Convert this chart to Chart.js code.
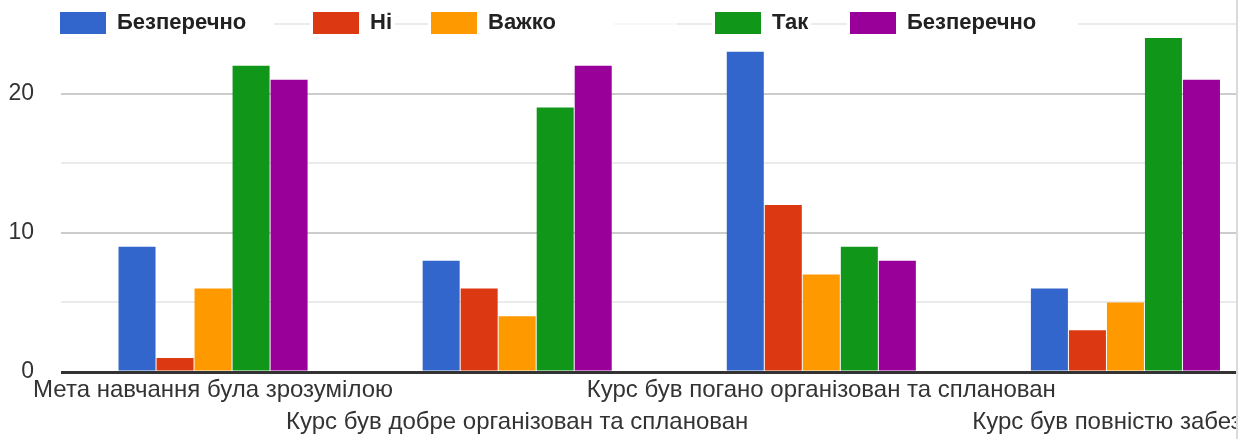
<!DOCTYPE html>
<html>
<head>
<meta charset="utf-8">
<script src="https://cdn.jsdelivr.net/npm/chart.js@4"></script>
<style>
  html, body { margin: 0; padding: 0; background: #fff; overflow: hidden; }
  #moldura { position: relative; width: 1236px; height: 439px; overflow: hidden; border-right: 2px solid #dadada; }
  #caixa { width: 1300px; height: 439px; }
</style>
</head>
<body>
<div id="moldura"><div id="caixa"><canvas id="grafico"></canvas></div></div>
<script>
// Dados
const categorias = [
  "Мета навчання була зрозумілою",
  "Курс був добре організован та спланован",
  "Курс був погано організован та спланован",
  "Курс був повністю забезп…"
];
const rotulos = ["Безперечно", "Ні", "Важко", "Так", "Безперечно"];
const valoresBezperechno = [9, 8, 23, 6];
const valoresNi = [1, 6, 12, 3];
const valoresVazhko = [6, 4, 7, 5];
const valoresTak = [22, 19, 9, 24];
const valoresBezperechno2 = [21, 22, 8, 21];
const ticksY = [0, 10, 20];

const cores = ["#3366cc", "#dc3912", "#ff9900", "#109618", "#990099"];
const series = [valoresBezperechno, valoresNi, valoresVazhko, valoresTak, valoresBezperechno2];

// legenda no estilo do Google Charts, desenhada por cima da linha do topo
const legendaX = [60, 313, 431, 715, 850];
const legendaFolga = [28, 3, 58, 3, 42];
const pluginLegenda = {
  id: "legendaGoogle",
  afterDraw(chart) {
    const ctx = chart.ctx;
    ctx.save();
    // trecho apagado da linha entre "Важко" e "Так"
    ctx.fillStyle = "rgba(255,255,255,0.65)";
    ctx.fillRect(614, 18, 63, 12);
    ctx.font = "bold 22px 'Liberation Sans', Arial, sans-serif";
    ctx.textBaseline = "middle";
    chart.data.datasets.forEach((ds, i) => {
      const x = legendaX[i];
      const larguraTexto = ctx.measureText(ds.label).width;
      ctx.fillStyle = "#fff";
      ctx.fillRect(x - 3, 8, 57 + larguraTexto + legendaFolga[i] + 3, 30);
      ctx.fillStyle = ds.backgroundColor;
      ctx.fillRect(x, 12, 46, 22);
      ctx.fillStyle = "#222";
      ctx.fillText(ds.label, x + 57, 23);
    });
    ctx.restore();
  }
};

const ctxGrafico = document.getElementById("grafico").getContext("2d");
new Chart(ctxGrafico, {
  type: "bar",
  data: {
    labels: categorias,
    datasets: rotulos.map((r, i) => ({
      label: r,
      data: series[i],
      backgroundColor: cores[i],
      borderWidth: 0,
      barPercentage: 37 / 38,
      categoryPercentage: 0.625
    }))
  },
  options: {
    responsive: true,
    maintainAspectRatio: false,
    animation: false,
    layout: { padding: { top: 24, left: 0, right: 22.5, bottom: 0 } },
    plugins: {
      legend: { display: false },
      tooltip: { enabled: false }
    },
    scales: {
      x: {
        afterFit: s => { s.height = 67; },
        grid: { display: false },
        border: { display: false },
        ticks: {
          autoSkip: false,
          maxRotation: 0,
          padding: -6,
          color: "#333",
          font: { family: "'Liberation Sans', Arial, sans-serif", size: 24, lineHeight: 32 / 24 },
          callback: function (valor, indice) {
            const texto = this.getLabelForValue(valor);
            return indice % 2 ? ["", texto] : texto;
          }
        }
      },
      y: {
        min: 0,
        max: 25,
        afterFit: s => { s.width = 61; s.paddingTop = 0; s.paddingBottom = 0; },
        border: { display: false },
        grid: {
          drawTicks: false,
          color: c => c.tick.value === 0 ? "#333" : (c.tick.value % 10 === 0 ? "#cccccc" : "#ebebeb"),
          lineWidth: c => c.tick.value === 0 ? 3 : 2
        },
        ticks: {
          stepSize: 5,
          padding: 27,
          color: "#333",
          font: { family: "'Liberation Sans', Arial, sans-serif", size: 23 },
          callback: v => ticksY.includes(v) ? v : ""
        }
      }
    }
  },
  plugins: [pluginLegenda]
});
</script>
</body>
</html>
